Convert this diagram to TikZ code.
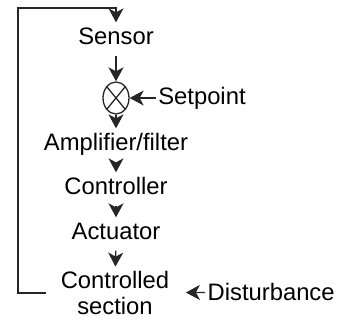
\documentclass[tikz,border=0pt]{standalone}
\usepackage{fontspec}
\setmainfont{Liberation Sans}
\usetikzlibrary{positioning, arrows.meta, shapes.geometric}

\begin{document}
\begin{tikzpicture}[
    x=0.5pt, y=-0.5pt,
    line width=0.65pt,
    draw=black!85,
    font=\fontsize{11.9}{13}\selectfont,
    block/.style={inner xsep=1pt, inner ysep=2.5pt, text height=8.5pt, text depth=2.5pt},
    label/.style={inner xsep=1pt, inner ysep=1pt},
    sum/.style={ellipse, draw, minimum width=13pt, minimum height=16pt, inner sep=0pt},
    arrow/.style={-{Stealth[length=7pt, width=7.5pt, inset=2pt]}}
]
\useasboundingbox (0,0) rectangle (338,320);

% Loop
\node[block] (sensor) at (116,39) {Sensor};
\node[sum] (cmp) at (116,98) {};
\node[block] (amp) at (116,145) {Amplifier/filter};
\node[block] (ctrl) at (116,189) {Controller};
\node[block] (act) at (116,234) {Actuator};
\node[align=center, inner sep=2pt] (plant) at (115,293) {Controlled\\section};

% Inputs
\node[label, anchor=west, right=13pt of cmp] (setp) {Setpoint};
\node[label, anchor=west] (dist) at (205,292) {Disturbance};
\coordinate (fbcorner) at (18,8);

% Comparator cross
\draw (cmp.north west) -- (cmp.south east);
\draw (cmp.north east) -- (cmp.south west);

% Forward path
\draw[arrow] (sensor) -- (cmp);
\draw[arrow] (cmp) -- (amp);
\draw[arrow] (amp) -- (ctrl);
\draw[arrow] (ctrl) -- (act);
\draw[arrow] (act) -- (plant);

% Setpoint and disturbance
\draw[arrow] (setp) -- (cmp);
\draw[arrow, shorten >=6pt] (dist) -- (plant);

% Feedback
\draw[arrow, shorten <=5pt] (plant.west) -| (fbcorner) -| (sensor.north);

\end{tikzpicture}
\end{document}
